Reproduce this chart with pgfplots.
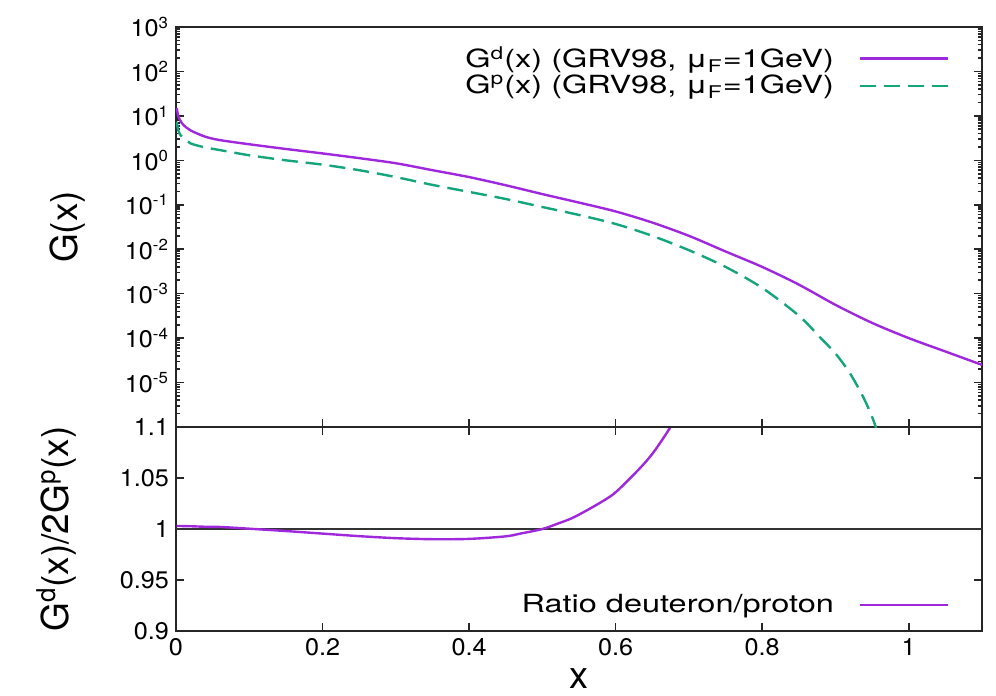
\documentclass[border=0pt]{standalone}
\usepackage{fontspec}
\setmainfont{TeX Gyre Heros}
\newfontfamily\legfont[FakeStretch=1.3]{TeX Gyre Heros}
\newfontfamily\tickfont[FakeStretch=1.05]{TeX Gyre Heros}
\usepackage{pgfplots}
\pgfplotsset{compat=1.18}
\definecolor{gdcol}{RGB}{160,40,220}
\definecolor{gpcol}{RGB}{20,165,125}
\begin{document}
\begin{tikzpicture}
\path[use as bounding box] (-88pt,-32.5pt) rectangle (410pt,315.5pt);
\pgfplotsset{
  myaxis/.style={
    width=403pt, scale only axis,
    xmin=0, xmax=1.1,
    xtick={0,0.2,0.4,0.6,0.8,1},
    axis line style={line width=1pt, black!85},
    every tick/.style={black!85, line width=0.8pt},
    major tick length=4pt, minor tick length=2pt,
    tick label style={font=\tickfont\fontsize{12}{14}\selectfont},
    /pgf/number format/assume math mode=true,
    legend cell align=right,
    legend plot pos=right,
    legend image code/.code={\draw[##1] (0pt,0pt) -- (44pt,0pt);},
    legend style={draw=none, fill=none, font=\legfont\fontsize{12.5}{14}\selectfont, inner sep=0pt,
      row sep=-1pt, nodes={inner sep=1.5pt},
      /tikz/every odd column/.append style={column sep=11pt}},
  }
}
% lower panel
\begin{axis}[myaxis,
  height=102pt,
  ymin=0.9, ymax=1.1,
  ytick={0.9,0.95,1,1.05,1.1},
  yticklabels={0.9,0.95,1,1.05,1.1},
  xticklabels={0,0.2,0.4,0.6,0.8,1},
  xlabel={x},
  xlabel style={at={(axis description cs:0.5,-0.235)}, anchor=center, font=\fontsize{19}{20}\selectfont},
  ylabel={G\textsuperscript{d}(x)/2G\textsuperscript{p}(x)},
  ylabel style={at={(axis description cs:-0.148,0.5)}, anchor=center, font=\fontsize{18.5}{20}\selectfont},
  legend style={at={(axis description cs:0.96,0)}, anchor=south east, yshift=6pt},
]
\addplot[black!80, line width=0.6pt, forget plot] coordinates {(0,1) (1.1,1)};
\addplot[gdcol, line width=1.2pt, smooth, tension=0.5] coordinates {
(0.001,1.003) (0.02,1.0027) (0.04,1.0022) (0.06,1.002) (0.08,1.0012) (0.1,1.0003) (0.15,0.998) (0.2,0.9955)
(0.25,0.993) (0.3,0.991) (0.35,0.990) (0.4,0.9903) (0.45,0.9928) (0.47,0.9955)
(0.5,1.0) (0.52,1.005) (0.54,1.0105) (0.56,1.018) (0.585,1.0284) (0.6,1.036)
(0.622,1.0513) (0.64,1.065) (0.654,1.0775) (0.674,1.099) (0.69,1.12)
};
\addlegendentry{Ratio deuteron/proton}
\end{axis}
% upper panel
\begin{axis}[myaxis,
  at={(0,102pt)},
  height=200pt,
  ymode=log,
  ymin=1e-6, ymax=1e3,
  ytick={1e-5,1e-4,1e-3,1e-2,1e-1,1,10,100,1000},
  yticklabels={10\textsuperscript{-5},10\textsuperscript{-4},10\textsuperscript{-3},10\textsuperscript{-2},10\textsuperscript{-1},10\textsuperscript{0},10\textsuperscript{1},10\textsuperscript{2},10\textsuperscript{3}},
  minor ytick={2e-6,3e-6,4e-6,5e-6,6e-6,7e-6,8e-6,9e-6,
    2e-5,3e-5,4e-5,5e-5,6e-5,7e-5,8e-5,9e-5,
    2e-4,3e-4,4e-4,5e-4,6e-4,7e-4,8e-4,9e-4,
    2e-3,3e-3,4e-3,5e-3,6e-3,7e-3,8e-3,9e-3,
    2e-2,3e-2,4e-2,5e-2,6e-2,7e-2,8e-2,9e-2,
    0.2,0.3,0.4,0.5,0.6,0.7,0.8,0.9,
    2,3,4,5,6,7,8,9,
    20,30,40,50,60,70,80,90,
    200,300,400,500,600,700,800,900},
  xticklabels={},
  xtick pos=bottom,
  ylabel={G(x)},
  ylabel style={at={(axis description cs:-0.135,0.5)}, anchor=center, font=\fontsize{18.5}{20}\selectfont},
  legend style={at={(axis description cs:0.96,1)}, anchor=north east, yshift=-8pt},
]
\addplot[gdcol, line width=1.2pt, smooth, tension=0.5] coordinates {
(0.001,15) (0.003,10) (0.006,7.8) (0.01,6.3) (0.02,4.7) (0.04,3.4) (0.06,2.85)
(0.1,2.3) (0.15,1.8) (0.2,1.43) (0.25,1.12) (0.3,0.86) (0.35,0.6) (0.4,0.42)
(0.45,0.275) (0.5,0.174) (0.55,0.112) (0.6,0.0708) (0.65,0.0398) (0.7,0.020)
(0.75,0.0089) (0.8,0.004) (0.85,0.0016) (0.9,5.6e-4) (0.95,2.2e-4) (1.0,1.0e-4)
(1.05,5e-5) (1.1,2.5e-5)
};
\addlegendentry{G\textsuperscript{d}(x) (GRV98, μ\textsubscript{F}=1GeV)}
\addplot[gpcol, line width=1.2pt, dash pattern=on 8pt off 4pt, smooth, tension=0.5] coordinates {
(0.001,7.4) (0.003,4.8) (0.006,3.7) (0.01,3.2) (0.02,2.4) (0.04,1.95) (0.06,1.7)
(0.1,1.3) (0.15,1.0) (0.2,0.8) (0.25,0.6) (0.3,0.42) (0.35,0.28) (0.4,0.195)
(0.45,0.135) (0.5,0.089) (0.55,0.059) (0.6,0.037) (0.65,0.020) (0.7,0.0095)
(0.75,0.004) (0.8,0.00135) (0.85,3.2e-4) (0.88,1e-4) (0.9,4.5e-5) (0.92,1.6e-5)
(0.94,4e-6) (0.955,1e-6) (0.965,2e-7)
};
\addlegendentry{G\textsuperscript{p}(x) (GRV98, μ\textsubscript{F}=1GeV)}
\end{axis}
\end{tikzpicture}
\end{document}
